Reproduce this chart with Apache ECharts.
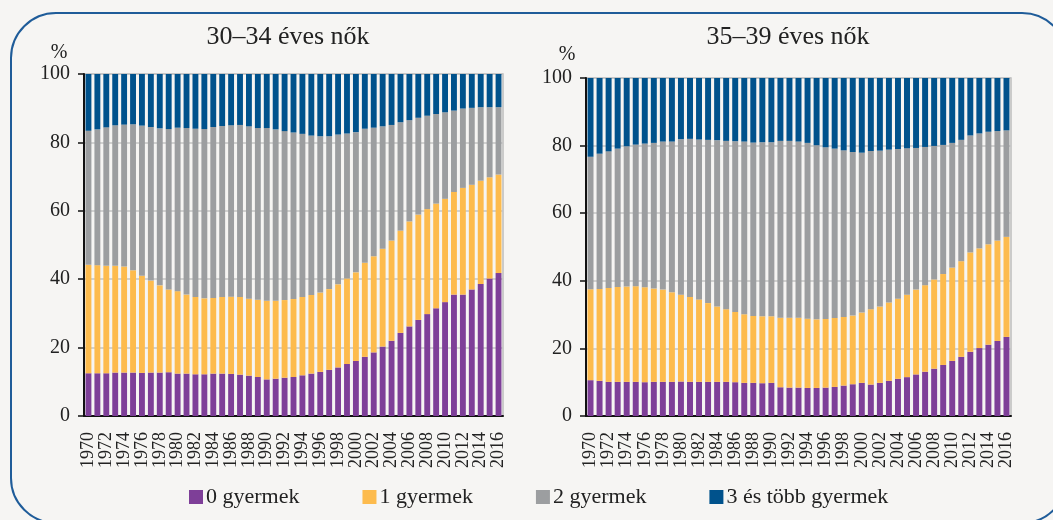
<!DOCTYPE html>
<html>
<head>
<meta charset="utf-8">
<title>Gyermekszám</title>
<script src="https://cdn.jsdelivr.net/npm/echarts@6/dist/echarts.min.js"></script>
<style>
    html, body { margin: 0; padding: 0; background: #f6f5f3; }
    #chart { width: 1053px; height: 520px; }
</style>
</head>
<body>
<div id="chart"></div>
<script>
// years on the x axis
var years = [];
for (var y = 1970; y <= 2016; y++) {
    years.push(String(y));
}
var seriesNames = ['0 gyermek', '1 gyermek', '2 gyermek', '3 és több gyermek'];
var seriesColors = ['#7e3f98', '#fdbb4d', '#9c9ea0', '#00528c'];

// 30-34 éves nők (%)
var w30_0 = [12.5, 12.5, 12.5, 12.7, 12.7, 12.7, 12.6, 12.7, 12.7, 12.8, 12.4, 12.4, 12.2, 12.2, 12.4, 12.4, 12.3, 12.1, 11.8, 11.4, 10.7, 10.9, 11.2, 11.4, 11.9, 12.4, 12.9, 13.5, 14.2, 15.2, 16.1, 17.3, 18.6, 20.3, 22.0, 24.3, 26.2, 28.1, 29.8, 31.5, 33.3, 35.5, 35.5, 37.0, 38.6, 40.2, 41.8];
var w30_1 = [31.7, 31.6, 31.4, 31.2, 31.0, 29.9, 28.4, 26.9, 25.5, 24.2, 24.1, 23.1, 22.6, 22.2, 22.1, 22.4, 22.6, 22.7, 22.5, 22.6, 23.0, 22.8, 22.7, 22.8, 22.9, 23.0, 23.2, 23.6, 24.3, 25.0, 25.9, 27.5, 28.1, 28.6, 29.3, 29.9, 30.7, 30.8, 30.7, 30.6, 30.2, 30.0, 31.2, 30.6, 30.2, 29.6, 28.8];
var w30_2 = [39.2, 39.7, 40.5, 41.1, 41.5, 42.7, 43.9, 44.9, 45.9, 46.9, 47.8, 48.7, 49.2, 49.5, 50.0, 50.0, 50.1, 50.3, 50.4, 50.2, 50.5, 50.1, 49.4, 48.7, 47.7, 46.6, 45.7, 44.7, 43.8, 42.4, 41.0, 39.2, 37.6, 35.8, 33.8, 31.7, 29.6, 28.3, 27.3, 26.2, 25.3, 23.8, 23.2, 22.5, 21.5, 20.5, 19.7];
var w30_3 = [16.6, 16.2, 15.6, 15.0, 14.8, 14.7, 15.1, 15.5, 15.9, 16.1, 15.7, 15.8, 16.0, 16.1, 15.5, 15.2, 15.0, 14.9, 15.3, 15.8, 15.8, 16.2, 16.7, 17.1, 17.5, 18.0, 18.2, 18.2, 17.7, 17.4, 17.0, 16.0, 15.7, 15.3, 14.9, 14.1, 13.5, 12.8, 12.2, 11.7, 11.2, 10.7, 10.1, 9.9, 9.7, 9.7, 9.7];

// 35-39 éves nők (%)
var w35_0 = [10.6, 10.4, 10.1, 10.1, 10.1, 10.1, 10.0, 10.1, 10.1, 10.1, 10.2, 10.1, 10.1, 10.1, 10.1, 10.1, 10.0, 9.8, 9.8, 9.7, 9.8, 8.5, 8.4, 8.4, 8.3, 8.3, 8.4, 8.6, 9.0, 9.4, 9.8, 9.3, 9.8, 10.4, 11.0, 11.5, 12.3, 13.1, 14.0, 15.1, 16.3, 17.5, 19.0, 20.1, 21.1, 22.2, 23.4];
var w35_1 = [26.9, 27.2, 27.8, 28.1, 28.2, 28.3, 28.1, 27.6, 27.3, 26.5, 25.7, 25.1, 24.4, 23.3, 22.3, 21.5, 20.8, 20.3, 19.8, 19.8, 19.7, 20.6, 20.7, 20.7, 20.5, 20.3, 20.3, 20.4, 20.3, 20.3, 20.8, 22.3, 22.6, 23.2, 23.7, 24.4, 25.1, 25.6, 26.4, 26.9, 27.6, 28.3, 29.4, 29.5, 29.7, 29.7, 29.6];
var w35_2 = [39.2, 40.0, 40.4, 40.9, 41.5, 41.9, 42.5, 43.1, 43.8, 44.6, 46.0, 46.8, 47.3, 48.3, 49.2, 49.8, 50.5, 51.1, 51.3, 51.5, 51.5, 52.3, 52.3, 52.1, 52.0, 51.5, 50.8, 50.1, 49.3, 48.4, 47.3, 46.8, 46.1, 45.2, 44.3, 43.3, 41.9, 40.9, 39.5, 38.2, 36.9, 35.9, 34.6, 34.0, 33.3, 32.4, 31.5];
var w35_3 = [23.3, 22.4, 21.7, 20.9, 20.2, 19.7, 19.4, 19.2, 18.8, 18.8, 18.1, 18.0, 18.2, 18.3, 18.4, 18.6, 18.7, 18.8, 19.1, 19.0, 19.0, 18.6, 18.6, 18.8, 19.2, 19.9, 20.5, 20.9, 21.4, 21.9, 22.1, 21.6, 21.5, 21.2, 21.0, 20.8, 20.7, 20.4, 20.1, 19.8, 19.2, 18.3, 17.0, 16.4, 15.9, 15.7, 15.5];

var FONT = 'Liberation Serif';
var myChart = echarts.init(document.getElementById('chart'));

var makeXAxis = function (gridIndex) {
    return {
        type: 'category',
        gridIndex: gridIndex,
        data: years,
        axisLine: { lineStyle: { color: '#111', width: 2 } },
        axisTick: { interval: 0, length: 6, lineStyle: { color: '#111', width: 1.5 } },
        axisLabel: {
            interval: 1,
            rotate: 90,
            margin: 16,
            color: '#222',
            fontFamily: FONT,
            fontSize: 18
        }
    };
};

var makeYAxis = function (gridIndex) {
    return {
        type: 'value',
        gridIndex: gridIndex,
        min: 0,
        max: 100,
        interval: 20,
        axisLine: { show: true, lineStyle: { color: '#111', width: 2 } },
        axisTick: { show: true, length: 6, lineStyle: { color: '#111', width: 1.5 } },
        axisLabel: { margin: 14, color: '#222', fontFamily: FONT, fontSize: 20 },
        splitLine: { lineStyle: { color: '#c4c4c4', width: 1.5 } }
    };
};

var makeSeries = function (lists, gridIndex) {
    var result = [];
    for (var i = 0; i < lists.length; i++) {
        result.push({
            name: seriesNames[i],
            type: 'bar',
            stack: 'total' + gridIndex,
            xAxisIndex: gridIndex,
            yAxisIndex: gridIndex,
            barCategoryGap: '34%',
            itemStyle: { color: seriesColors[i] },
            data: lists[i]
        });
    }
    return result;
};

var titleStyle = { fontFamily: FONT, fontSize: 26, fontWeight: 'normal', color: '#222' };
var pctStyle = { fontFamily: FONT, fontSize: 20, fontWeight: 'normal', color: '#222' };

var option = {
    backgroundColor: '#f6f5f3',
    animation: false,
    color: seriesColors,
    textStyle: { fontFamily: FONT },
    title: [
        { text: '30–34 éves nők', left: 288, top: 24, padding: 0, textAlign: 'center', textStyle: titleStyle },
        { text: '35–39 éves nők', left: 788, top: 24, padding: 0, textAlign: 'center', textStyle: titleStyle },
        { text: '%', left: 59, top: 43, padding: 0, textAlign: 'center', textStyle: pctStyle },
        { text: '%', left: 567, top: 45, padding: 0, textAlign: 'center', textStyle: pctStyle }
    ],
    legend: {
        left: 184,
        top: 481,
        itemWidth: 14,
        itemHeight: 14,
        itemGap: 63,
        icon: 'rect',
        textStyle: { fontFamily: FONT, fontSize: 22, color: '#222', padding: [0, 0, 0, -2] },
        data: seriesNames
    },
    grid: [
        { left: 84, right: 550, top: 74, bottom: 104, show: true, borderColor: '#bdbdbd', borderWidth: 1.5 },
        { left: 586, right: 42, top: 78, bottom: 104, show: true, borderColor: '#bdbdbd', borderWidth: 1.5 }
    ],
    xAxis: [makeXAxis(0), makeXAxis(1)],
    yAxis: [makeYAxis(0), makeYAxis(1)],
    series: makeSeries([w30_0, w30_1, w30_2, w30_3], 0).concat(makeSeries([w35_0, w35_1, w35_2, w35_3], 1)),
    graphic: [{
        type: 'rect',
        silent: true,
        shape: { x: 11, y: 13, width: 1056, height: 510, r: 45 },
        style: { fill: 'none', stroke: '#1f5c99', lineWidth: 2 }
    }]
};
myChart.setOption(option);
</script>
</body>
</html>
